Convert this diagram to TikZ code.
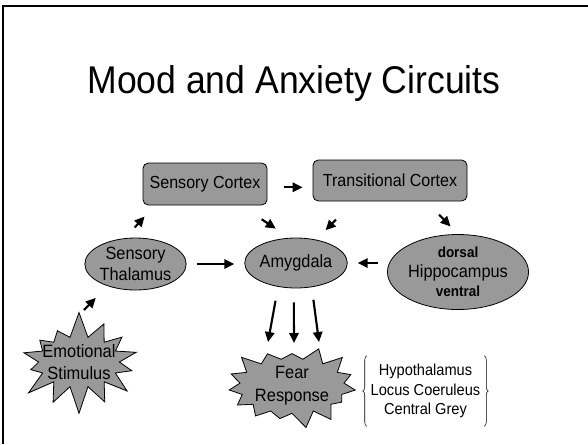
\documentclass[tikz,border=0pt]{standalone}
\usepackage{fontspec}
\setmainfont{Liberation Sans}[FakeStretch=0.92]
\usetikzlibrary{shapes.geometric,shapes.symbols,arrows.meta,decorations.pathreplacing}

\definecolor{boxgray}{RGB}{153,153,153}

\tikzset{
  box/.style={draw, rounded corners=4pt, fill=boxgray, line width=0.6pt, inner sep=0pt, font=\fontsize{13.1}{15}\selectfont},
  oval/.style={draw, ellipse, fill=boxgray, line width=0.6pt, inner sep=0pt, align=center, font=\fontsize{13.3}{15.5}\selectfont},
  burst/.style={draw, starburst, fill=boxgray, line width=0.6pt, inner sep=0pt, align=center, font=\fontsize{13.4}{17}\selectfont},
  arr/.style={line width=1.6pt, -{Triangle[length=7.5pt,width=7pt]}},
  brc/.style={decorate, decoration={brace, amplitude=3pt}, line width=0.4pt},
}

\begin{document}
\begin{tikzpicture}[x=0.75pt,y=-0.75pt]
	\useasboundingbox (0,0) rectangle (588,444);
	% slide frame
	\draw[line width=1.5pt] (2.5,444) -- (2.5,6) -- (588,6);
	\node (title) at (294,83) {\fontsize{29}{34}\selectfont Mood and Anxiety Circuits};

	% boxes
	\node[box, minimum width=93pt, minimum height=31.5pt] (sensctx) at (205,184) {Sensory Cortex};
	\node[box, minimum width=115.5pt, minimum height=30.75pt] (transctx) at (390,180.5) {Transitional Cortex};

	% ovals
	\node[oval, minimum width=69.75pt, minimum height=39pt] (thal) at (135.5,264) {Sensory\\Thalamus};
	\node[oval, minimum width=69pt, minimum height=37.5pt] (amyg) at (296,263) {Amygdala};
	\node[oval, minimum width=79.5pt, minimum height=56.25pt, font=\fontsize{13.3}{14.5}\selectfont] (hippo) at (458,272)
		{{\bfseries\fontsize{11}{12}\selectfont dorsal}\\Hippocampus\\{\bfseries\fontsize{11}{12}\selectfont ventral}};

	% bursts
	\node[burst, starburst points=14, starburst point height=20pt, random starburst=7, inner xsep=-6pt, minimum height=76.5pt] (stim) at (79,362) {Emotional\\Stimulus};
	\node[burst, starburst points=15, starburst point height=12pt, random starburst=3, minimum width=97pt, minimum height=54pt] (fear) at (292,386) {Fear\\Response};

	% outputs of the fear response
	\node[align=center, minimum width=87.75pt, minimum height=52.5pt, inner sep=0pt, font=\fontsize{11.9}{14.8}\selectfont] (targets) at (425.5,391) {Hypothalamus\\Locus Coeruleus\\Central Grey};
	\draw[brc] (targets.south west) -- (targets.north west);
	\draw[brc] (targets.north east) -- (targets.south east);

	% arrows
	\coordinate (stimout) at (84,310);
	\coordinate (f1) at (268,342);
	\coordinate (f2) at (294,343);
	\coordinate (f3) at (319,342);
	\draw[arr, shorten <=12.75pt, shorten >=7.5pt] (sensctx.-3) -- (sensctx.-3 -| transctx.west);
	\draw[arr, shorten <=10.8pt, shorten >=11.2pt] (thal.112) -- (sensctx.203);
	\draw[arr, shorten >=12.4pt] (stimout) -- (thal.218);
	\draw[arr, shorten <=7.5pt, shorten >=7.5pt] (thal.east) -- (thal.east -| amyg.west);
	\draw[arr, shorten <=18.9pt, shorten >=12.5pt] (sensctx.329) -- (amyg.104);
	\draw[arr, shorten <=19.1pt, shorten >=9.9pt] (transctx.210) -- (amyg.49);
	\draw[arr, shorten <=13.8pt, shorten >=8pt] (transctx.330) -- (hippo.north);
	\draw[arr, shorten <=6.75pt, shorten >=7.5pt] (hippo.west |- amyg.east) -- (amyg.east);
	\draw[arr, shorten <=10.6pt] (amyg.233) -- (f1);
	\draw[arr, shorten <=10.5pt] (amyg.265) -- (f2);
	\draw[arr, shorten <=9.5pt] (amyg.303) -- (f3);
\end{tikzpicture}
\end{document}
